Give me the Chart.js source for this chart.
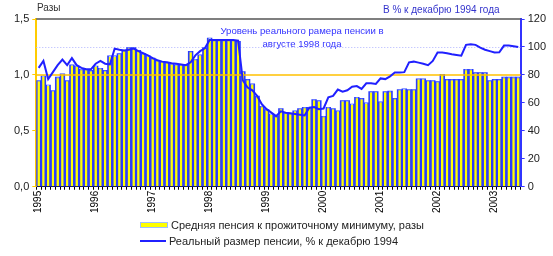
<!DOCTYPE html>
<html>
<head>
<meta charset="utf-8">
<script src="https://cdn.jsdelivr.net/npm/chart.js@4.4.1/dist/chart.umd.min.js"></script>
<style>
  body { margin: 0; background: #fff; font-family: "Liberation Sans", Arial, sans-serif; }
  #wrap { position: relative; width: 553px; height: 256px; }
  canvas { position: absolute; left: 0; top: 0; }
  .txt { position: absolute; font-size: 10px; white-space: nowrap; }
  #unitLeft { left: 37px; top: 2px; color: #333; }
  #unitRight { left: 383px; top: 4px; color: #3333cc; }
  #note { left: 202px; top: 24px; width: 200px; text-align: center; color: #3333ff; line-height: 13px; font-size: 9.6px; }
  #legend { position: absolute; left: 140px; top: 217px; font-size: 11px; color: #222; }
  .item { height: 16px; display: flex; align-items: center; }
  .sw { width: 26px; margin-right: 3px; }
  .sw.bar { height: 4px; background: #ffff00; border: 1px solid #9fbfff; }
  .sw.line { height: 2px; background: #2020ff; }
</style>
</head>
<body>
<div id="wrap">
  <canvas id="chart" width="553" height="256"></canvas>
  <div class="txt" id="unitLeft">Разы</div>
  <div class="txt" id="unitRight">В % к декабрю 1994 года</div>
  <div class="txt" id="note">Уровень реального рамера пенсии в<br>августе 1998 года</div>
  <div id="legend">
    <div class="item"><span class="sw bar"></span>Средняя пенсия к прожиточному минимуму, разы</div>
    <div class="item"><span class="sw line"></span>Реальный размер пенсии, % к декабрю 1994</div>
  </div>
</div>
<script>
// годы на оси, месячные данные с января 1995 по июнь 2003
const years = ['1995', '1996', '1997', '1998', '1999', '2000', '2001', '2002', '2003'];
const monthCount = 102;

// средняя пенсия к прожиточному минимуму, разы
const pensionRatio = [
  0.95, 0.99, 0.91, 0.86, 0.98, 1.01, 0.95, 1.09, 1.08, 1.05, 1.05, 1.04,
  1.08, 1.06, 1.04, 1.17, 1.17, 1.19, 1.22, 1.245, 1.245, 1.22, 1.19, 1.17,
  1.15, 1.13, 1.12, 1.11, 1.10, 1.09, 1.09, 1.09, 1.21, 1.14, 1.18, 1.245,
  1.33, 1.31, 1.31, 1.31, 1.31, 1.31, 1.30, 1.03, 0.96, 0.92, 0.81, 0.72,
  0.69, 0.65, 0.63, 0.70, 0.66, 0.655, 0.68, 0.70, 0.71, 0.71, 0.78, 0.77,
  0.63, 0.71, 0.70, 0.68, 0.77, 0.77, 0.74, 0.80, 0.79, 0.75, 0.85, 0.85,
  0.76, 0.85, 0.855, 0.79, 0.87, 0.875, 0.87, 0.87, 0.965, 0.965, 0.95, 0.95,
  0.94, 1.005, 0.96, 0.96, 0.96, 0.96, 1.05, 1.05, 1.02, 1.02, 1.02, 0.95,
  0.96, 0.96, 0.98, 0.98, 0.98, 0.98
];

// реальный размер пенсии, % к декабрю 1994
const realPension = [
  85, 90, 77, 82, 87, 91, 87, 92, 87, 85, 84, 84,
  88, 90, 88, 87.5, 98.8, 98, 97.5, 98, 98.8, 97, 95.5, 94,
  92, 90.5, 89.5, 89, 88.3, 88, 87.5, 87, 89, 94, 97, 99,
  105, 105, 105, 105, 105, 105, 104.5, 76, 71, 69, 65, 59,
  55.5, 53, 50.5, 54, 53, 52.5, 52, 51.5, 51, 56.5, 57, 55.5,
  56, 64, 65, 69.5, 68, 69, 71.5, 72, 70, 74, 74, 73.5,
  77.5, 77, 79, 81.7, 81.7, 82, 89, 89.5, 88.8, 88, 87, 90,
  96, 96, 95.5, 94.8, 94.3, 93.8, 101.5, 102, 101.5, 99.5, 98, 97,
  96, 96.2, 101, 101, 100.5, 100
];

const months = [];
for (let i = 0; i < monthCount; i++) {
  months.push(years[Math.floor(i / 12)] + '-' + String(i % 12 + 1).padStart(2, '0'));
}

// линии: 1,0 (оранжевая), 100% пунктир, верхняя граница
const refLines = {
  id: 'refLines',
  beforeDatasetsDraw(chart) {
    const { ctx, chartArea: a, scales } = chart;
    ctx.save();
    const y100 = Math.round(scales.y1.getPixelForValue(100)) + 0.5;
    ctx.strokeStyle = '#b0b4ff';
    ctx.lineWidth = 1;
    ctx.setLineDash([1, 2]);
    ctx.beginPath(); ctx.moveTo(a.left, y100); ctx.lineTo(a.right, y100); ctx.stroke();
    ctx.setLineDash([]);
    const yTop = scales.y.getPixelForValue(1.5);
    ctx.strokeStyle = '#555';
    ctx.lineWidth = 1.5;
    ctx.beginPath(); ctx.moveTo(a.left, yTop); ctx.lineTo(a.right, yTop); ctx.stroke();
    ctx.restore();
  },
  afterDatasetDraw(chart, args) {
    if (args.index !== 1) return;
    const { ctx, chartArea: a, scales } = chart;
    const y1 = scales.y.getPixelForValue(1.0);
    ctx.save();
    ctx.strokeStyle = '#ffc000';
    ctx.lineWidth = 1.5;
    ctx.beginPath(); ctx.moveTo(a.left, y1); ctx.lineTo(a.right, y1); ctx.stroke();
    ctx.restore();
  }
};

new Chart(document.getElementById('chart'), {
  type: 'bar',
  data: {
    labels: months,
    datasets: [
      {
        // синяя подложка столбцов
        label: 'shadow',
        data: pensionRatio,
        yAxisID: 'y',
        backgroundColor: '#2a3cff',
        barPercentage: 1,
        categoryPercentage: 1,
        grouped: false,
        order: 3
      },
      {
        label: 'Средняя пенсия к прожиточному минимуму, разы',
        data: pensionRatio,
        yAxisID: 'y',
        backgroundColor: '#ffff00',
        borderColor: '#a8c0ff',
        borderWidth: { top: 1, left: 0, right: 0, bottom: 0 },
        borderSkipped: false,
        barPercentage: 0.55,
        categoryPercentage: 1,
        grouped: false,
        order: 2
      },
      {
        type: 'line',
        label: 'Реальный размер пенсии, % к декабрю 1994',
        data: realPension,
        yAxisID: 'y1',
        borderColor: '#2020ff',
        borderWidth: 2,
        pointRadius: 0,
        tension: 0,
        order: 0
      }
    ]
  },
  options: {
    responsive: false,
    animation: false,
    devicePixelRatio: 1,
    layout: { padding: { left: 11, right: 4, top: 19, bottom: 42 } },
    plugins: { legend: { display: false }, tooltip: { enabled: false } },
    scales: {
      x: {
        grid: { drawOnChartArea: false, drawTicks: true, tickLength: 3, color: '#000' },
        border: { color: '#000', width: 1 },
        ticks: {
          autoSkip: false,
          minRotation: 90,
          maxRotation: 90,
          padding: 1,
          color: '#000',
          font: { family: 'Liberation Sans Narrow, Liberation Sans', size: 10 },
          callback: (v, i) => (i % 12 === 0 ? years[i / 12] : '')
        }
      },
      y: {
        position: 'left',
        min: 0,
        max: 1.5,
        grid: { drawOnChartArea: false, tickLength: 4, color: '#ffcc00' },
        border: { color: '#ffcc00', width: 2 },
        ticks: {
          stepSize: 0.5,
          color: '#222',
          font: { family: 'Liberation Sans', size: 11 },
          callback: v => v.toFixed(1).replace('.', ',')
        }
      },
      y1: {
        position: 'right',
        min: 0,
        max: 120,
        grid: { drawOnChartArea: false, tickLength: 4, color: '#3333ff' },
        border: { color: '#3333ff', width: 2 },
        ticks: {
          stepSize: 20,
          color: '#222',
          font: { family: 'Liberation Sans', size: 11 }
        }
      }
    }
  },
  plugins: [refLines]
});
</script>
</body>
</html>
